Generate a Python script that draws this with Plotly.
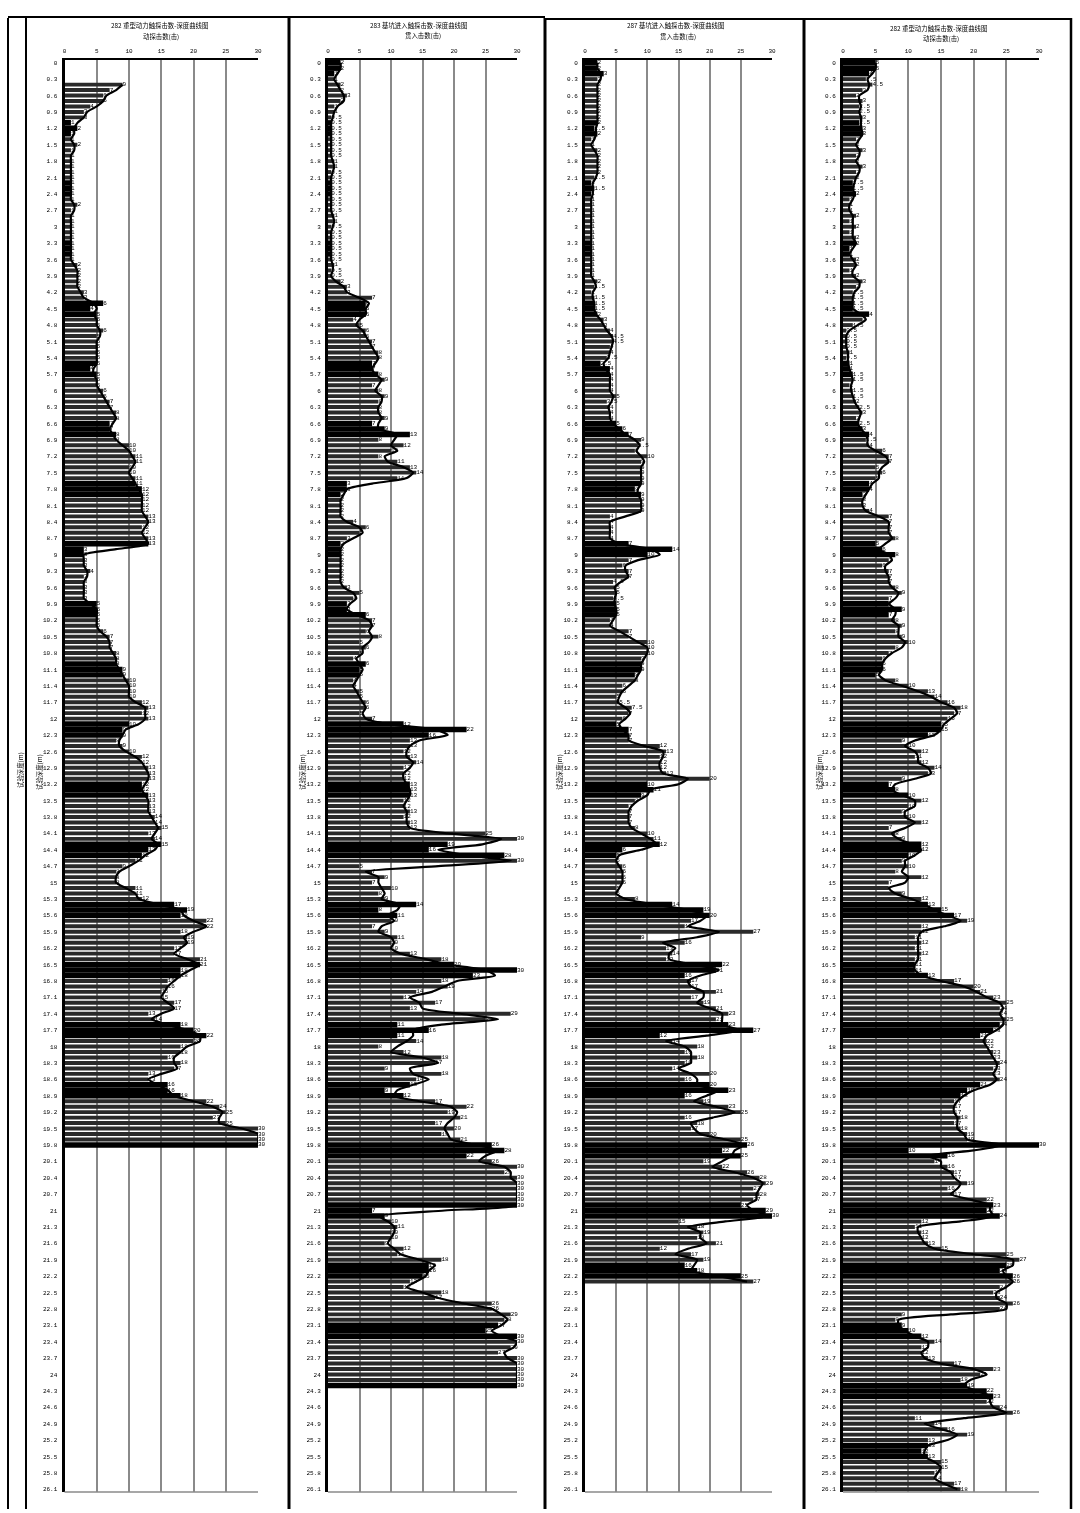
import plotly.graph_objects as go

# Depth categories, every 0.1 m
depths = [i / 10 for i in range(262)]

depth_ticks = [
    0, 0.3, 0.6, 0.9, 1.2, 1.5, 1.8, 2.1, 2.4, 2.7, 3, 3.3, 3.6, 3.9, 4.2, 4.5, 4.8, 5.1, 5.4, 5.7, 6, 6.3,
    6.6, 6.9, 7.2, 7.5, 7.8, 8.1, 8.4, 8.7, 9, 9.3, 9.6, 9.9, 10.2, 10.5, 10.8, 11.1, 11.4, 11.7, 12, 12.3,
    12.6, 12.9, 13.2, 13.5, 13.8, 14.1, 14.4, 14.7, 15, 15.3, 15.6, 15.9, 16.2, 16.5, 16.8, 17.1, 17.4, 17.7,
    18, 18.3, 18.6, 18.9, 19.2, 19.5, 19.8, 20.1, 20.4, 20.7, 21, 21.3, 21.6, 21.9, 22.2, 22.5, 22.8, 23.1,
    23.4, 23.7, 24, 24.3, 24.6, 24.9, 25.2, 25.5, 25.8, 26.1,
]
blow_ticks = [0, 5, 10, 15, 20, 25, 30]

titles = [
    "282 重型动力触探击数-深度曲线图",
    "283 基坑进入触探击数-深度曲线图",
    "287 基坑进入触探击数-深度曲线图",
    "282 重型动力触探击数-深度曲线图",
]
subtitles = ["动探击数(击)", "贯入击数(击)", "贯入击数(击)", "动探击数(击)"]
depth_title = "试验深度(m)"

# Blow counts
blows_1 = [
    None, None, None, None, 9, 7, 6, 6, 4, 3, 3, 1, 2, 1, 1, 2, 1,
    1, 1, 1, 1, 1, 1, 1, 1, 1, 2, 1, 1, 1, 1, 1, 1, 1, 1, 1, 1, 2, 2, 2, 2, 2, 3, 3,
    6, 4, 5, 5, 5, 6, 5, 5, 5, 5, 5, 5, 4, 5, 5, 5,
    6, 6, 7, 7, 8, 8, 7, 7, 8, 8,
    10, 10, 11, 11, 10, 10, 11, 11, 12, 12,
    12, 12, 12, 13, 13, 12, 12, 13, 13, 3,
    3, 3, 3, 4, 3, 3, 3, 3, 3, 5,
    5, 5, 5, 5, 6, 7, 7, 7, 8, 8,
    8, 9, 9, 10, 10, 10, 10, 12, 13, 12,
    13, 10, 9, 9, 8, 9, 10, 12, 12, 13,
    13, 13, 12, 12, 13, 13, 13, 13, 14, 14,
    15, 13, 14, 15, 13, 12, 11, 9, 8, 8,
    8, 11, 11, 12, 17, 19, 18, 22, 22, 18,
    19, 19, 17, 17, 21, 21, 18, 18, 16, 16,
    15, 15, 17, 17, 13, 14, 18, 20, 22, 20,
    18, 18, 16, 18, 17, 13, 13, 16, 16, 18,
    22, 24, 25, 23, 25, 30, 30, 30, 30,
]
blows_2 = [
    2, 2, 1, 1, 2, 2, 3, 2, 1, 1,
    .5, .5, .5, .5, .5, .5, .5, .5, 1, 1,
    .5, .5, .5, .5, .5, .5, .5, .5, 1, 1,
    .5, .5, .5, .5, .5, .5, .5, 1, .5, .5,
    2, 3, 3, 7, 6, 6, 6, 4, 5, 6,
    6, 7, 7, 8, 8, 7, 7, 8, 9, 7,
    8, 9, 8, 8, 8, 9, 7, 9, 13, 8,
    12, 10, 8, 11, 13, 14, 11, 3, 3, 2,
    2, 2, 2, 2, 4, 6, 5, 3, 2, 2,
    2, 2, 2, 2, 2, 2, 3, 5, 4, 3,
    3, 6, 7, 7, 6, 8, 5, 6, 5, 4,
    6, 5, 5, 4, 4, 5, 5, 6, 6, 5,
    7, 12, 22, 16, 13, 13, 12, 13, 14, 12,
    12, 12, 13, 13, 13, 12, 12, 13, 12, 13,
    13, 25, 30, 19, 16, 28, 30, 5, 7, 9,
    7, 10, 8, 9, 14, 8, 11, 10, 7, 9,
    11, 10, 10, 13, 18, 20, 30, 23, 18, 19,
    14, 12, 17, 13, 29, 25, 11, 16, 11, 14,
    8, 12, 18, 17, 9, 18, 14, 13, 9, 12,
    17, 22, 19, 21, 17, 20, 18, 21, 26, 28,
    22, 26, 30, 28, 30, 30, 30, 30, 30, 30,
    7, 9, 10, 11, 10, 10, 9, 12, 11, 18,
    16, 16, 15, 13, 12, 18, 17, 26, 26, 29,
    28, 27, 25, 30, 30, 29, 27, 30, 30, 30,
    30, 30, 30,
]
blows_3 = [
    2, 2, 3, 2, 2, 2, 2, 2, 2, 2,
    2, 2, 1.5, 2, 1, 1, 2, 2, 2, 2,
    2, 1.5, 1, 1.5, 1, 1, 1, 1, 1, 1,
    1, 1, 1, 1, 1, 1, 1, 1, 1, 1,
    2, 1.5, 1, 1.5, 1.5, 1.5, 2, 3, 3, 4,
    4.5, 4.5, 4, 4, 3.5, 2.5, 4, 4, 4, 4,
    4, 5, 3.5, 4, 4, 4, 5, 6, 7, 9,
    8.5, 8, 10, 9, 9, 9, 9, 9, 8, 9,
    9, 9, 9, 4, 4, 4, 4, 4, 7, 14,
    10, 7, 6, 7, 7, 4.5, 5, 5, 4.5, 5,
    5, 5, 4, 4, 7, 7, 10, 10, 10, 9,
    9, 9, 8, 8, 6, 6, 5, 5.5, 7.5, 7,
    6, 5, 7, 7, 7, 12, 13, 12, 12, 12,
    13, 20, 10, 11, 9, 8, 7, 7, 7, 7,
    8, 10, 11, 12, 6, 5, 5, 6, 6, 6,
    6, 5, 5, 8, 14, 19, 20, 17, 16, 27,
    9, 16, 13, 14, 13, 22, 21, 16, 17, 17,
    21, 17, 19, 21, 23, 21, 23, 27, 12, 14,
    18, 16, 18, 16, 14, 20, 16, 20, 23, 16,
    19, 23, 25, 16, 18, 17, 20, 25, 26, 22,
    25, 19, 22, 26, 28, 29, 27, 28, 27, 25,
    29, 30, 15, 18, 19, 18, 21, 12, 17, 19,
    16, 18, 25, 27,
]
blows_4 = [
    5, 5, 4, 3.5, 4.5, 3, 2, 3, 2.5, 2.5,
    3, 2.5, 3, 3, 2, 2, 3, 2, 2, 3,
    2, 2, 1.5, 1.5, 2, 1, 1, 1, 2, 1,
    2, 1, 2, 2, 1, 1, 2, 2, 1, 2,
    3, 2, 1.5, 1.5, 1.5, 1.5, 4, 3, 1.5, .5,
    .5, .5, .5, 1, .5, 1, 1, 1.5, 1.5, 1,
    1.5, 1.5, 2, 2.5, 3, 2, 2.5, 3, 4, 3.5,
    4, 6, 7, 7, 5, 6, 5, 4, 4, 3,
    3, 3, 4, 7, 7, 7, 7, 8, 5, 6,
    8, 7, 6, 7, 7, 7, 8, 9, 7, 7,
    9, 7, 8, 9, 8, 9, 10, 8, 7, 6,
    6, 6, 5, 8, 10, 13, 14, 16, 18, 17,
    16, 15, 15, 13, 9, 10, 12, 11, 12, 14,
    13, 9, 7, 8, 10, 12, 10, 9, 10, 12,
    7, 8, 9, 12, 12, 10, 9, 10, 8, 12,
    7, 7, 9, 12, 13, 15, 17, 19, 12, 12,
    11, 12, 11, 12, 11, 11, 11, 13, 17, 20,
    21, 23, 25, 24, 24, 25, 24, 23, 21, 22,
    22, 23, 23, 24, 23, 23, 24, 21, 19, 18,
    17, 17, 17, 18, 17, 18, 19, 19, 30, 10,
    16, 14, 16, 17, 17, 19, 16, 17, 22, 23,
    22, 24, 12, 11, 12, 12, 13, 15, 25, 27,
    25, 24, 26, 26, 24, 23, 24, 26, 24, 9,
    8, 9, 10, 12, 14, 12, 12, 13, 17, 23,
    21, 18, 19, 22, 23, 22, 24, 26, 11, 14,
    16, 19, 13, 13, 12, 13, 15, 15, 14, 14,
    17, 18,
]

# Trend curve over the bars, read per depth
trend_1 = [
    None, None, None, None, 9, 8, 6.5, 6, 5, 3.5, 3, 2, 1.5, 1.5, 1, 1.5, 1.5,
    1, 1, 1, 1, 1, 1, 1, 1, 1, 1.5, 1.5, 1, 1, 1, 1, 1, 1, 1, 1, 1, 1.5, 2, 2, 2, 2, 2.5, 3,
    4.5, 5, 4.5, 5, 5, 5.5, 5.5, 5, 5, 5, 5, 5, 4.5, 4.5, 5, 5,
    5.5, 6, 6.5, 7, 7.5, 8, 7.5, 7, 7.5, 8,
    9, 10, 10.5, 11, 10.5, 10, 10.5, 11, 11.5, 12,
    12, 12, 12, 12.5, 13, 12.5, 12, 12.5, 13, 8,
    3, 3, 3, 3.5, 3.5, 3, 3, 3, 3, 4,
    5, 5, 5, 5, 5.5, 6.5, 7, 7, 7.5, 8,
    8, 8.5, 9, 9.5, 10, 10, 10, 11, 12.5, 12.5,
    12.5, 11.5, 9.5, 9, 8.5, 8.5, 9.5, 11, 12, 12.5,
    13, 13, 12.5, 12, 12.5, 13, 13, 13, 13.5, 14,
    14.5, 14, 13.5, 14.5, 14, 12.5, 11.5, 10, 8.5, 8,
    8, 9.5, 11, 11.5, 14.5, 18, 18.5, 20, 22, 20,
    18.5, 19, 18, 17, 19, 21, 19.5, 18, 17, 16,
    15.5, 15, 16, 17, 15, 13.5, 16, 19, 21, 21,
    19, 18, 17, 17, 17.5, 15, 13, 14.5, 16, 17,
    20, 23, 24.5, 24, 24, 27.5, 30, 30, 30,
]
trend_2 = [
    2, 2, 1.5, 1, 1.5, 2, 2.5, 2.5, 1.5, 1,
    .75, .5, .5, .5, .5, .5, .5, .5, .75, 1,
    .75, .5, .5, .5, .5, .5, .5, .5, .75, 1,
    .75, .5, .5, .5, .5, .5, .5, .75, .75, .5,
    1.25, 2.5, 3, 5, 6.5, 6, 6, 5, 4.5, 5.5,
    6, 6.5, 7, 7.5, 8, 7.5, 7, 7.5, 8.5, 8,
    7.5, 8.5, 8.5, 8, 8, 8.5, 8, 8, 11, 10.5,
    10, 11, 9, 9.5, 12, 13.5, 12.5, 7, 3, 2.5,
    2, 2, 2, 2, 3, 5, 5.5, 4, 2.5, 2,
    2, 2, 2, 2, 2, 2, 2.5, 4, 4.5, 3.5,
    3, 4.5, 6.5, 7, 6.5, 7, 6.5, 5.5, 5.5, 4.5,
    5, 5.5, 5, 4.5, 4, 4.5, 5, 5.5, 6, 5.5,
    6, 9.5, 17, 19, 14.5, 13, 12.5, 12.5, 13.5, 13,
    12, 12, 12.5, 13, 13, 12.5, 12, 12.5, 12.5, 12.5,
    13, 19, 27.5, 24.5, 17.5, 22, 29, 17.5, 6, 8,
    8, 8.5, 9, 8.5, 11.5, 11, 9.5, 10.5, 8.5, 8,
    10, 10.5, 10, 11.5, 15.5, 19, 25, 26.5, 20.5, 18.5,
    16.5, 13, 14.5, 15, 21, 27, 18, 13.5, 13.5, 12.5,
    11, 10, 15, 17.5, 13, 13.5, 16, 13.5, 11, 10.5,
    14.5, 19.5, 20.5, 20, 19, 18.5, 19, 19.5, 23.5, 27,
    25, 24, 28, 29, 29, 30, 30, 30, 30, 30,
    18.5, 8, 9.5, 10.5, 10.5, 10, 9.5, 10.5, 11.5, 14.5,
    17, 16, 15.5, 14, 12.5, 15, 17.5, 21.5, 26, 27.5,
    28.5, 27.5, 26, 27.5, 30, 29.5, 28, 28.5, 30, 30,
    30, 30, 30,
]
trend_3 = [
    2, 2, 2.5, 2.5, 2, 2, 2, 2, 2, 2,
    2, 2, 1.75, 1.75, 1.5, 1, 1.5, 2, 2, 2,
    2, 1.75, 1.25, 1.25, 1.25, 1, 1, 1, 1, 1,
    1, 1, 1, 1, 1, 1, 1, 1, 1, 1,
    1.5, 1.75, 1.25, 1.25, 1.5, 1.5, 1.75, 2.5, 3, 3.5,
    4.25, 4.5, 4.25, 4, 3.75, 3, 3.25, 4, 4, 4,
    4, 4.5, 4.25, 3.75, 4, 4, 4.5, 5.5, 6.5, 8,
    8.75, 8.25, 9, 9.5, 9, 9, 9, 9, 8.5, 8.5,
    9, 9, 9, 6.5, 4, 4, 4, 4, 5.5, 10.5,
    12, 8.5, 6.5, 6.5, 7, 5.75, 4.75, 5, 4.75, 4.75,
    5, 5, 4.5, 4, 5.5, 7, 8.5, 10, 10, 9.5,
    9, 9, 8.5, 8, 7, 6, 5.5, 5.25, 6.5, 7.25,
    6.5, 5.5, 6, 7, 7, 9.5, 12.5, 12.5, 12, 12,
    12.5, 16.5, 15, 10.5, 10, 8.5, 7.5, 7, 7, 7,
    7.5, 9, 10.5, 11.5, 9, 5.5, 5, 5.5, 6, 6,
    6, 5.5, 5, 6.5, 11, 16.5, 19.5, 18.5, 16.5, 21.5,
    18, 12.5, 14.5, 13.5, 13.5, 17.5, 21.5, 18.5, 16.5, 17,
    19, 19, 18, 20, 22, 22, 22, 25, 19.5, 13,
    16, 17, 17, 17, 15, 17, 18, 18, 21.5, 19.5,
    17.5, 21, 24, 20.5, 17, 17.5, 18.5, 22.5, 25.5, 24,
    23.5, 22, 20.5, 24, 27, 28.5, 28, 27.5, 27.5, 26,
    27, 29.5, 22.5, 16.5, 18.5, 18.5, 19.5, 16.5, 14.5, 18,
    17.5, 17, 21.5, 26,
]
trend_4 = [
    5, 5, 4.5, 3.75, 4, 3.75, 2.5, 2.5, 2.75, 2.5,
    2.75, 2.75, 2.75, 3, 2.5, 2, 2.5, 2.5, 2, 2.5,
    2.5, 2, 1.75, 1.5, 1.75, 1.5, 1, 1, 1.5, 1.5,
    1.5, 1.5, 1.5, 2, 1.5, 1, 1.5, 2, 1.5, 1.5,
    2.5, 2.5, 1.75, 1.5, 1.5, 1.5, 2.75, 3.5, 2.25, 1,
    .5, .5, .5, .75, .75, .75, 1, 1.25, 1.5, 1.25,
    1.25, 1.5, 1.75, 2.25, 2.75, 2.5, 2.25, 2.75, 3.5, 3.75,
    3.75, 5, 6.5, 7, 6, 5.5, 5.5, 4.5, 4, 3.5,
    3, 3, 3.5, 5.5, 7, 7, 7, 7.5, 6.5, 5.5,
    7, 7.5, 6.5, 6.5, 7, 7, 7.5, 8.5, 8, 7,
    8, 8, 7.5, 8.5, 8.5, 8.5, 9.5, 9, 7.5, 6.5,
    6, 6, 5.5, 6.5, 9, 11.5, 13.5, 15, 17, 17.5,
    16.5, 15.5, 15, 14, 11, 9.5, 11, 11.5, 11.5, 13,
    13.5, 11, 8, 7.5, 9, 11, 11, 9.5, 9.5, 11,
    9.5, 7.5, 8.5, 10.5, 12, 11, 9.5, 9.5, 9, 10,
    9.5, 7, 8, 10.5, 12.5, 14, 16, 18, 15.5, 12,
    11.5, 11.5, 11.5, 11.5, 11.5, 11, 11, 12, 15, 18.5,
    20.5, 22, 24, 24.5, 24, 24.5, 24.5, 23.5, 22, 21.5,
    22, 22.5, 23, 23.5, 23.5, 23, 23.5, 22.5, 20, 18.5,
    17.5, 17, 17, 17.5, 17.5, 17.5, 18.5, 19, 24.5, 20,
    13, 15, 15, 16.5, 17, 18, 17.5, 16.5, 19.5, 22.5,
    22.5, 23, 18, 11.5, 11.5, 12, 12.5, 14, 20, 26,
    26, 24.5, 25, 26, 25, 23.5, 23.5, 25, 25, 16.5,
    8.5, 8.5, 9.5, 11, 13, 13, 12, 12.5, 15, 20,
    22, 19.5, 18.5, 20.5, 22.5, 22.5, 23, 25, 18.5, 12.5,
    15, 17.5, 16, 13, 12.5, 12.5, 14, 15, 14.5, 14,
    15.5, 17.5,
]

blows = [blows_1, blows_2, blows_3, blows_4]
trends = [trend_1, trend_2, trend_3, trend_4]

W, H = 1080, 1513
MONO = "Liberation Mono"
CJK = "Noto Sans CJK SC"
PLOT_TOP, PLOT_BOTTOM = 60, 1492

# pixel left/right of each plot area
plot_x = [(64.5, 258), (328, 517), (585, 772), (843, 1039)]
title_pos = [(159, 26), (418, 25), (675, 26), (938, 28)]
subtitle_pos = [(161, 37), (423, 35), (678, 37), (941, 38)]
depth_title_x = [39, 302, 559, 819]


def px(x):
    return x / W


def py(y):
    return 1 - y / H


def label(v):
    return "" if v is None else f"{v:g}"


def scan_look(count):
    # the scan shows the bars as solid black runs broken by striped runs
    colors, widths = [], []
    for i in range(count):
        solid = i % 11 < 3
        colors.append("#000000" if solid else "#2a2a2a")
        widths.append(1.0 if solid else 0.72)
    return colors, widths


fig = go.Figure()
shapes = []
annotations = []

for n in range(4):
    suffix = "" if n == 0 else str(n + 1)
    xname, yname = "x" + suffix, "y" + suffix
    y_vals = depths[:len(blows[n])]
    bar_colors, bar_widths = scan_look(len(blows[n]))

    fig.add_trace(go.Bar(
        x=blows[n],
        y=y_vals,
        orientation="h",
        xaxis=xname,
        yaxis=yname,
        width=[w * 0.1 for w in bar_widths],
        marker=dict(color=bar_colors, line=dict(width=0)),
        text=[label(v) for v in blows[n]],
        textposition="outside",
        constraintext="none",
        cliponaxis=False,
        textfont=dict(family=MONO, size=6, color="#000000"),
        showlegend=False,
    ))
    fig.add_trace(go.Scatter(
        x=trends[n],
        y=y_vals,
        mode="lines",
        xaxis=xname,
        yaxis=yname,
        line=dict(color="#000000", width=2.2, shape="spline", smoothing=0.6),
        showlegend=False,
    ))

    fig.update_layout({
        "xaxis" + suffix: dict(
            domain=[px(plot_x[n][0]), px(plot_x[n][1])],
            range=[0, 30],
            anchor=yname,
            side="top",
            tickvals=blow_ticks,
            ticks="",
            ticklabelstandoff=3,
            showgrid=True,
            gridcolor="#8a8a8a",
            gridwidth=2,
            zeroline=False,
            showline=True,
            linecolor="#000000",
            linewidth=2,
            tickfont=dict(family=MONO, size=6, color="#000000"),
        ),
        "yaxis" + suffix: dict(
            domain=[py(PLOT_BOTTOM), py(PLOT_TOP)],
            range=[26.15, -0.05],
            anchor=xname,
            tickvals=depth_ticks,
            ticktext=[label(t) for t in depth_ticks],
            ticks="",
            ticklabelstandoff=3,
            showgrid=False,
            zeroline=False,
            showline=True,
            linecolor="#000000",
            linewidth=3,
            tickfont=dict(family=MONO, size=6, color="#000000"),
        ),
    })

    # grey closing line under the plot area
    shapes.append(dict(type="line", xref="paper", yref="paper",
                       x0=px(plot_x[n][0]), x1=px(plot_x[n][1]),
                       y0=py(PLOT_BOTTOM), y1=py(PLOT_BOTTOM),
                       line=dict(color="#8a8a8a", width=1.5)))

    annotations.append(dict(xref="paper", yref="paper", x=px(title_pos[n][0]), y=py(title_pos[n][1]),
                            text=titles[n], showarrow=False, xanchor="center", yanchor="middle",
                            font=dict(family=CJK, size=6.4, color="#000000")))
    annotations.append(dict(xref="paper", yref="paper", x=px(subtitle_pos[n][0]), y=py(subtitle_pos[n][1]),
                            text=subtitles[n], showarrow=False, xanchor="center", yanchor="middle",
                            font=dict(family=CJK, size=6.4, color="#000000")))
    annotations.append(dict(xref="paper", yref="paper", x=px(depth_title_x[n]), y=py(772),
                            text=depth_title, showarrow=False, textangle=-90, xanchor="center", yanchor="middle",
                            font=dict(family=CJK, size=6.4, color="#000000")))

# second depth title between the two left frame lines
annotations.append(dict(xref="paper", yref="paper", x=px(20), y=py(770),
                        text=depth_title, showarrow=False, textangle=-90, xanchor="center", yanchor="middle",
                        font=dict(family=CJK, size=6.4, color="#000000")))

# sheet frame
for x, width in [(8, 2), (26, 2), (289, 3), (545, 3), (804, 3), (1071, 2.5)]:
    shapes.append(dict(type="line", xref="paper", yref="paper", x0=px(x), x1=px(x),
                       y0=py(1509), y1=py(18), line=dict(color="#000000", width=width)))
shapes.append(dict(type="line", xref="paper", yref="paper", x0=px(8), x1=px(545),
                   y0=py(17), y1=py(17), line=dict(color="#000000", width=2)))
shapes.append(dict(type="line", xref="paper", yref="paper", x0=px(545), x1=px(1071),
                   y0=py(19), y1=py(19), line=dict(color="#000000", width=2)))

fig.update_layout(
    width=W,
    height=H,
    margin=dict(l=0, r=0, t=0, b=0, autoexpand=False),
    paper_bgcolor="#ffffff",
    plot_bgcolor="#ffffff",
    showlegend=False,
    shapes=shapes,
    annotations=annotations,
)

# will-change keeps the tiny labels on greyscale antialiasing, like the scan
fig.write_html(
    "out.html",
    config=dict(displayModeBar=False),
    post_script="document.body.style.margin='0';"
                "document.querySelectorAll('.main-svg').forEach(function(s){s.style.willChange='transform';});",
)
